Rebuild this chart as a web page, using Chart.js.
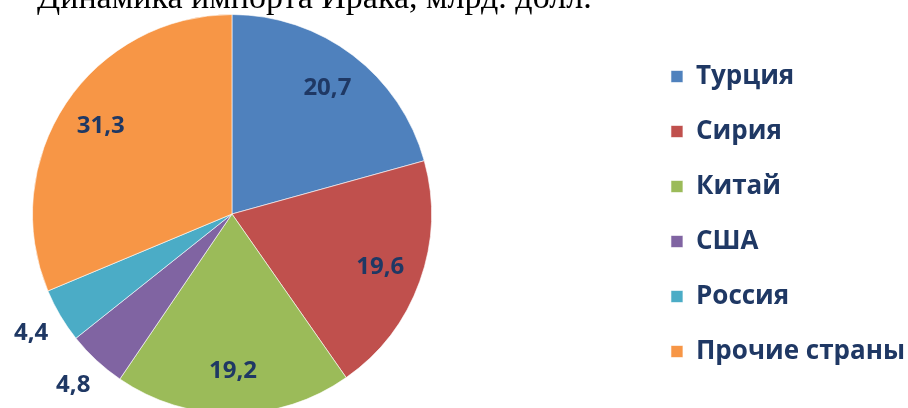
<!DOCTYPE html>
<html>
<head>
<meta charset="utf-8">
<script src="https://cdn.jsdelivr.net/npm/chart.js@4/dist/chart.umd.min.js"></script>
<style>
  body { margin: 0; background: #fff; }
  #wrap { position: relative; width: 908px; height: 408px; overflow: hidden; }
  /* canvas is wider than the window so the pie sits at the left edge */
  #box { position: absolute; left: -178px; top: 0; width: 1093px; height: 430px; }
  #title {
    position: absolute; left: 37px; top: -20px; margin: 0;
    font-family: "Liberation Serif", "DejaVu Serif", serif;
    font-size: 34px; line-height: 1; font-weight: normal; color: #000; white-space: nowrap;
  }
</style>
</head>
<body>
<div id="wrap">
  <div id="box"><canvas id="importChart"></canvas></div>
  <p id="title">Динамика импорта Ирака, млрд. долл.</p>
</div>
<script>
const countries = ['Турция', 'Сирия', 'Китай', 'США', 'Россия', 'Прочие страны'];
const importValues = [20.7, 19.6, 19.2, 4.8, 4.4, 31.3];
const sliceColors = ['#4f81bd', '#c0504d', '#9bbb59', '#8064a2', '#4bacc6', '#f79646'];

const textColor = '#1f3864';
const labelFont = '"Open Sans", "Noto Sans", sans-serif';

// value labels: inside for big slices, outside for small ones
const sliceLabels = {
  id: 'sliceLabels',
  afterDatasetsDraw(chart) {
    const ctx = chart.ctx;
    const meta = chart.getDatasetMeta(0);
    ctx.save();
    ctx.font = 'bold 24px ' + labelFont;
    ctx.fillStyle = textColor;
    ctx.textAlign = 'center';
    ctx.textBaseline = 'middle';
    meta.data.forEach((arc, i) => {
      const v = chart.data.datasets[0].data[i];
      const p = arc.getProps(['x', 'y', 'startAngle', 'endAngle', 'outerRadius'], true);
      const mid = (p.startAngle + p.endAngle) / 2;
      const r = v < 6 ? p.outerRadius * 1.17 : p.outerRadius * 0.79;
      const x = p.x + Math.cos(mid) * r;
      const y = p.y + Math.sin(mid) * r;
      ctx.fillText(String(v).replace('.', ','), x, y);
    });
    ctx.restore();
  }
};

new Chart(document.getElementById('importChart'), {
  type: 'pie',
  data: {
    labels: countries,
    datasets: [{
      data: importValues,
      backgroundColor: sliceColors,
      borderColor: 'rgba(255,255,255,0.6)',
      borderWidth: 1
    }]
  },
  options: {
    responsive: true,
    maintainAspectRatio: false,
    animation: false,
    layout: { padding: { left: 0, right: 0, top: 14, bottom: 16 } },
    plugins: {
      tooltip: { enabled: false },
      legend: {
        position: 'right',
        align: 'center',
        labels: {
          boxWidth: 12,
          boxHeight: 12,
          padding: 29,
          color: textColor,
          font: { family: labelFont, size: 26, weight: 'bold' }
        }
      }
    }
  },
  plugins: [sliceLabels]
});
</script>
</body>
</html>
